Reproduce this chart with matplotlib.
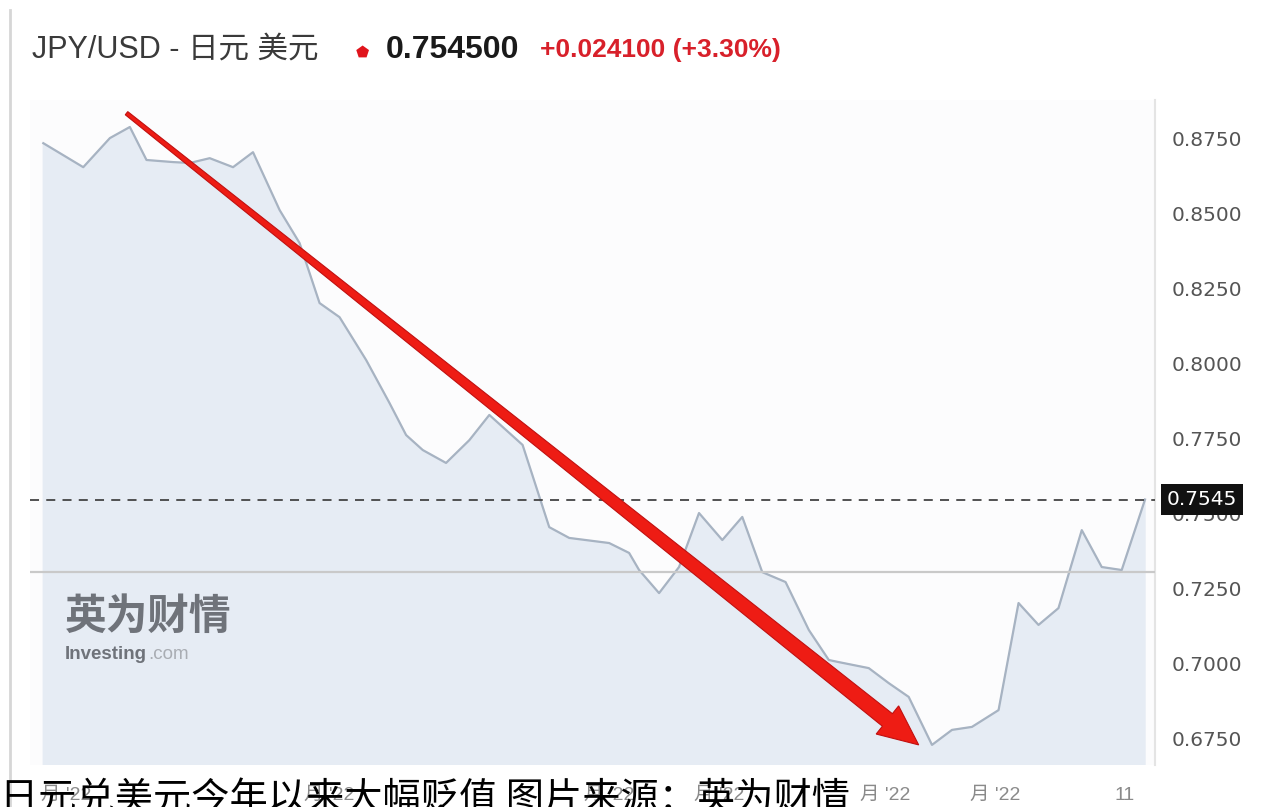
import numpy as np
import matplotlib.pyplot as plt
from matplotlib.patches import Polygon
from matplotlib.transforms import IdentityTransform, blended_transform_factory

# day index (approx) and JPY/USD close
days = [0, 12, 20, 26, 31, 39, 44, 50, 57, 63, 71, 77, 83, 89, 97, 104, 109, 114,
        121, 128, 134, 144, 152, 158, 170, 176, 179, 185, 191, 197, 204, 210, 216,
        223, 230, 236, 239, 248, 254, 260, 267, 273, 279, 287, 293, 299, 305, 312,
        318, 324, 331]
rate = [0.8733, 0.8653, 0.8750, 0.8787, 0.8677, 0.8670, 0.8667, 0.8683, 0.8653,
        0.8703, 0.8510, 0.8400, 0.8200, 0.8153, 0.8010, 0.7867, 0.7760, 0.7710,
        0.7667, 0.7743, 0.7827, 0.7727, 0.7453, 0.7417, 0.7400, 0.7367, 0.7310,
        0.7233, 0.7320, 0.7500, 0.7410, 0.7487, 0.7303, 0.7270, 0.7110, 0.7010,
        0.7003, 0.6983, 0.6933, 0.6887, 0.6727, 0.6777, 0.6787, 0.6843, 0.7200,
        0.7127, 0.7183, 0.7443, 0.7320, 0.7310, 0.7545]

last_price = 0.7545
prev_close = 0.7304
yticks = [0.675, 0.700, 0.725, 0.750, 0.775, 0.800, 0.825, 0.850, 0.875]
xtick_pos = [7, 86, 170, 203, 253, 286, 325]
xtick_labels = ["月 '22", "月 '22", "月 '22", "月 '22", "月 '22", "月 '22", "11"]

# hand drawn red arrow (start, tip) in data units
arrow_start = (25, 0.8833)
arrow_end = (263, 0.6727)

cjk = ['Liberation Sans', 'Noto Sans CJK SC', 'DejaVu Sans']
plt.rcParams['font.family'] = cjk

W, H = 1278, 807
fig = plt.figure(figsize=(W / 100, H / 100), dpi=100)
fig.patch.set_facecolor('white')
ax = fig.add_axes([30 / W, 42 / H, (1155 - 30) / W, (765 - 100) / H])
ax.set_facecolor('#fcfcfd')

ax.fill_between(days, rate, 0.6, color='#e6ecf4', zorder=1)
ax.plot(days, rate, color='#a7b3c2', lw=1.6, zorder=2)

ax.axhline(prev_close, color='#c9c9c9', lw=1.6, zorder=3)
ax.axhline(last_price, color='#444444', lw=1.3, ls=(0, (5, 4)), zorder=3)

ax.set_xlim(-4, 334)
ax.set_ylim(0.666, 0.8877)

for s in ['top', 'left', 'bottom']:
    ax.spines[s].set_visible(False)
ax.spines['right'].set_color('#e4e4e4')
ax.spines['right'].set_linewidth(1.5)

ax.yaxis.tick_right()
ax.set_yticks(yticks)
ax.set_yticklabels(['%.4f' % v for v in yticks], family='DejaVu Sans')
ax.tick_params(axis='y', length=0, pad=12, labelsize=14.5, labelcolor='#555555')
ax.set_xticks(xtick_pos)
ax.set_xticklabels(xtick_labels)
ax.tick_params(axis='x', length=0, pad=16, labelsize=14, labelcolor='#8a8a8a')

tr = blended_transform_factory(ax.transAxes, ax.transData)
ax.text(1.0105, last_price, '0.7545', transform=tr, ha='left', va='center',
        color='white', fontsize=14.5, zorder=6, family='DejaVu Sans',
        bbox=dict(facecolor='#111111', edgecolor='none', boxstyle='square,pad=0.3'))

# watermark
ax.text(35 / 1125, 0.7155, '英为财情', transform=tr, fontsize=30, fontweight='bold',
        color='#6f737a', family='Noto Sans CJK SC', va='center', zorder=2)
inv = ax.text(35 / 1125, 0.7030, 'Investing', transform=tr, fontsize=13.5,
              fontweight='bold', color='#6f737a', va='center', zorder=2)
fig.canvas.draw()
bb = inv.get_window_extent()
ax.text((bb.x1 - 30 + 1) / 1125, 0.7030, '.com', transform=tr,
        fontsize=13.5, color='#a9adb3', va='center', zorder=2)

# red arrow, tapered, built in pixel space
p0 = ax.transData.transform(arrow_start)
p1 = ax.transData.transform(arrow_end)
d = (p1 - p0) / np.linalg.norm(p1 - p0)
n = np.array([-d[1], d[0]])
head_len, head_w, w0, w1 = 40, 18, 2, 8
base = p1 - d * head_len
pts = [p0 + n * w0, base + n * w1, base + n * head_w, p1,
       base - n * head_w, base - n * w1, p0 - n * w0]
ax.add_patch(Polygon(pts, closed=True, transform=IdentityTransform(),
                     facecolor='#ee1c14', edgecolor='#c01010', lw=0.8, zorder=5))

# header
fig.text(32 / W, 1 - 50 / H, 'JPY/USD - 日元 美元', fontsize=22, color='#3a3a3a',
         va='center', ha='left')
fig.text(362 / W, 1 - 52 / H, '⬟', fontsize=11, color='#e0141c', va='center',
         ha='center', family='DejaVu Sans')
fig.text(386 / W, 1 - 50 / H, '0.754500', fontsize=23, fontweight='bold',
         color='#1a1a1a', va='center', ha='left')
fig.text(540 / W, 1 - 50 / H, '+0.024100 (+3.30%)', fontsize=19, fontweight='bold',
         color='#d8202a', va='center', ha='left')

# left border of the widget
fig.add_artist(plt.Line2D([10 / W, 10 / W], [0, 1 - 10 / H], color='#d6d6d6', lw=2))

# caption over the bottom
fig.text(0, 1 - 780 / H, '日元兑美元今年以来大幅贬值 图片来源：英为财情', fontsize=27.5,
         color='black', va='top', ha='left', family=['Noto Sans CJK SC', 'DejaVu Sans'])

fig.savefig('out.png', dpi=100)
